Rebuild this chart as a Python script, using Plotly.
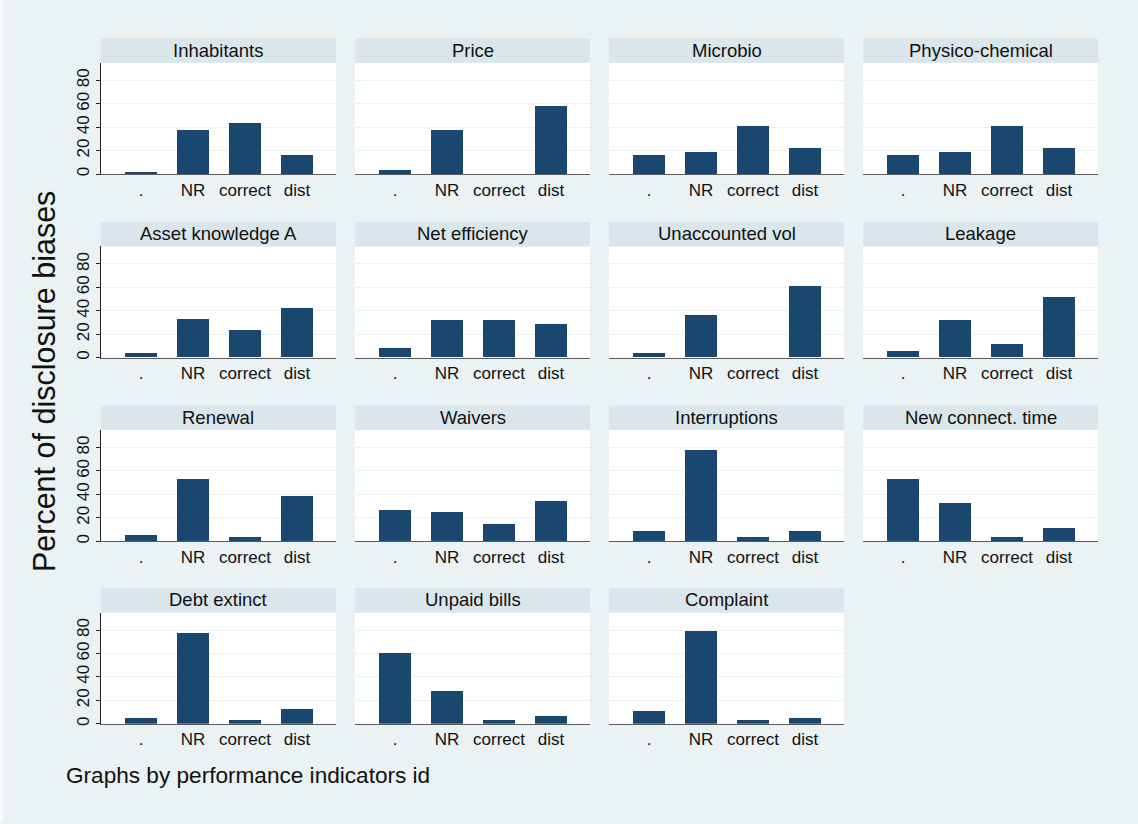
import plotly.graph_objects as go

# Indicator panels, in display order (4 per row)
indicators = [
    "Inhabitants", "Price", "Microbio", "Physico-chemical",
    "Asset knowledge A", "Net efficiency", "Unaccounted vol", "Leakage",
    "Renewal", "Waivers", "Interruptions", "New connect. time",
    "Debt extinct", "Unpaid bills", "Complaint",
]

# Disclosure-bias categories on the x axis
categories = [".", "NR", "correct", "dist"]

# Percent of disclosure biases, one list per category
pct_missing = [2.0, 3.7, 16.6, 16.6, 3.7, 7.7, 3.7, 5.7, 5.7, 26.3, 9.1, 52.9, 5.7, 61.1, 11.4]
pct_nr      = [38.0, 38.0, 19.1, 19.1, 32.3, 31.6, 36.3, 32.0, 52.9, 24.6, 77.7, 32.3, 77.7, 28.6, 80.0]
pct_correct = [44.0, 0.0, 41.4, 41.4, 22.9, 31.6, 0.0, 11.4, 4.0, 15.1, 4.0, 4.0, 3.7, 3.7, 3.7]
pct_dist    = [16.6, 58.6, 22.6, 22.6, 41.7, 28.2, 61.1, 51.1, 38.3, 34.0, 9.1, 11.7, 13.1, 7.4, 5.7]

y_ticks = [0, 20, 40, 60, 80]

W, H = 1138, 824
BG = "#EAF2F3"
STRIP = "#D9E6EB"
BAR = "#1A476F"
TXT = "#111111"
FONT = "Liberation Sans, Arial, Helvetica, sans-serif"

col_left = [101, 355, 609, 863]
row_top = [63, 247, 431, 614]
panel_w = 235
plot_h = 111.5
strip_h = 24.5

fig = go.Figure()
shapes = [
    dict(type="rect", xref="paper", yref="paper", x0=0, x1=3 / W, y0=0, y1=1,
         fillcolor="#F7FAFB", line=dict(width=0), layer="below"),
]
annotations = []

for i, name in enumerate(indicators):
    r, c = divmod(i, 4)
    n = i + 1
    xa = "x" if n == 1 else f"x{n}"
    ya = "y" if n == 1 else f"y{n}"
    vals = [pct_missing[i], pct_nr[i], pct_correct[i], pct_dist[i]]
    fig.add_trace(go.Bar(
        x=categories, y=vals, xaxis=xa, yaxis=ya,
        marker=dict(color=BAR, line=dict(width=0)),
        width=0.615, showlegend=False, hoverinfo="x+y",
    ))

    left = col_left[c]
    top = row_top[r]
    xdom = [left / W, (left + panel_w) / W]
    ydom = [1 - (top + plot_h) / H, 1 - top / H]
    xkey = "xaxis" if n == 1 else f"xaxis{n}"
    ykey = "yaxis" if n == 1 else f"yaxis{n}"

    fig.layout[xkey] = dict(
        domain=xdom, anchor=ya, type="category",
        categoryorder="array", categoryarray=categories,
        range=[-0.77, 3.75], showgrid=False, zeroline=False,
        showline=True, linecolor="#5c5c5c", linewidth=1.2,
        ticks="", tickfont=dict(size=17, color=TXT, family=FONT),
        fixedrange=True,
    )
    first_col = (c == 0)
    fig.layout[ykey] = dict(
        domain=ydom, anchor=xa, range=[0, 95],
        tickvals=y_ticks, showgrid=True, gridcolor=BG, gridwidth=1.2,
        zeroline=False,
        showline=first_col, linecolor="#222222", linewidth=1,
        ticks="outside" if first_col else "", ticklen=4, tickcolor="#222222",
        showticklabels=first_col, tickangle=-90,
        tickfont=dict(size=17, color=TXT, family=FONT),
        fixedrange=True,
    )

    # panel header strip
    shapes.append(dict(
        type="rect", xref="paper", yref="paper",
        x0=xdom[0], x1=xdom[1],
        y0=1 - top / H, y1=1 - (top - strip_h) / H,
        fillcolor=STRIP, line=dict(width=0), layer="below",
    ))
    annotations.append(dict(
        xref="paper", yref="paper",
        x=(xdom[0] + xdom[1]) / 2, y=1 - (top - strip_h / 2 - 0.5) / H,
        text=name, showarrow=False, xanchor="center", yanchor="middle",
        font=dict(size=18.5, color=TXT, family=FONT),
    ))

annotations.append(dict(
    xref="paper", yref="paper", x=44 / W, y=1 - 383 / H,
    text="Percent of disclosure biases", textangle=-90, showarrow=False,
    xanchor="center", yanchor="middle",
    font=dict(size=30.5, color=TXT, family=FONT),
))
annotations.append(dict(
    xref="paper", yref="paper", x=64 / W, y=1 - 777 / H,
    text="Graphs by performance indicators id", showarrow=False,
    xanchor="left", yanchor="middle",
    font=dict(size=22.6, color=TXT, family=FONT),
))

fig.update_layout(
    width=W, height=H,
    margin=dict(l=0, r=0, t=0, b=0),
    paper_bgcolor=BG, plot_bgcolor="white",
    shapes=shapes, annotations=annotations,
    bargap=0, showlegend=False,
    font=dict(family=FONT, color=TXT),
)

fig.write_html("out.html")
